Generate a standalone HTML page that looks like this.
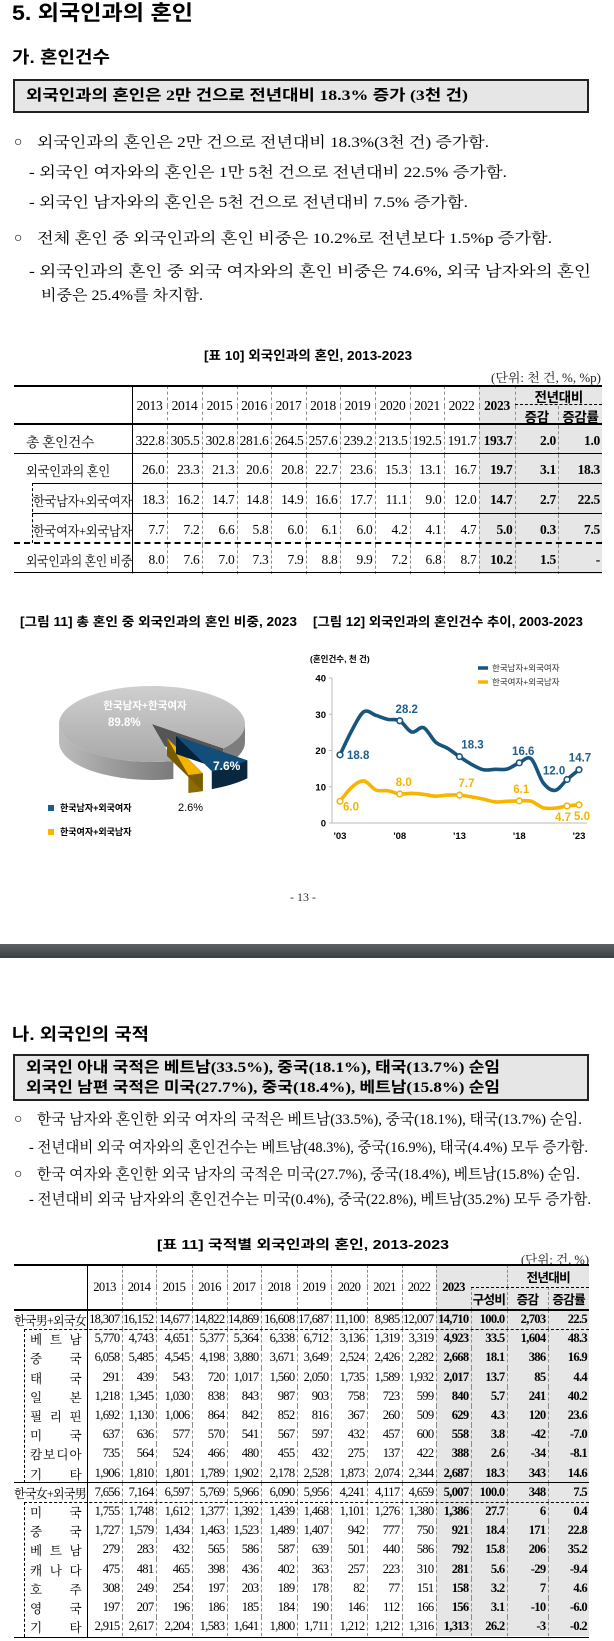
<!DOCTYPE html>
<html lang="ko"><head><meta charset="utf-8">
<style>
html,body{margin:0;padding:0;background:#fff}
body{width:614px;height:1641px;position:relative;overflow:hidden;color:#000}
.t{position:absolute;white-space:nowrap;display:inline-block;line-height:20px;transform-origin:0 50%}
.serif{font-family:"Liberation Serif","Noto Serif CJK SC",serif}
.goth{font-family:"Liberation Sans","Noto Sans CJK KR",sans-serif;font-weight:bold}
.boxt{font-family:"Liberation Serif","Noto Sans CJK KR",sans-serif;font-weight:bold}
.box{position:absolute;background:#e6e6e6;border:2px solid #222;box-sizing:border-box}
.hl{position:absolute;height:0}
.vl{position:absolute;width:0}
table{position:absolute;border-collapse:collapse;table-layout:fixed;font-family:"Liberation Serif","Noto Serif CJK SC",serif}
td{padding:0 2px 0 0;text-align:right;white-space:nowrap;overflow:visible;border-left:1px dashed #8a8a8a;box-sizing:border-box}
td.first{border-left:none;text-align:left;padding:0}
td.g{background:#e6e6e6}
td.b{font-weight:bold}
td.c{text-align:center;padding:0}
td.h{font-family:"Liberation Sans","Noto Sans CJK KR",sans-serif;font-weight:bold;font-size:12px}
#t10 td{font-size:13.5px;letter-spacing:-0.3px}
#t11 td{font-size:12.6px;letter-spacing:-0.7px}
.dist{display:flex;justify-content:space-between;margin-left:16px;width:51px}
</style></head>
<body>

<span class="t goth fit" data-w="181" style="left:12px;top:4px;font-size:21px">5. 외국인과의 혼인</span>
<span class="t goth fit" data-w="98" style="left:12px;top:48px;font-size:17px">가. 혼인건수</span>
<div class="box" style="left:13px;top:79px;width:576px;height:34px"></div>
<span class="t boxt fit" data-w="442" style="left:26px;top:86px;font-size:15px">외국인과의 혼인은 2만 건으로 전년대비 18.3% 증가 (3천 건)</span>

<span class="t serif" style="left:14px;top:133px;font-size:14px">○</span>
<span class="t serif fit" data-w="452" style="left:37px;top:133px;font-size:15px">외국인과의 혼인은 2만 건으로 전년대비 18.3%(3천 건) 증가함.</span>
<span class="t serif fit" data-w="478" style="left:29px;top:163px;font-size:15px">- 외국인 여자와의 혼인은 1만 5천 건으로 전년대비 22.5% 증가함.</span>
<span class="t serif fit" data-w="439" style="left:29px;top:193px;font-size:15px">- 외국인 남자와의 혼인은 5천 건으로 전년대비 7.5% 증가함.</span>
<span class="t serif" style="left:14px;top:229px;font-size:14px">○</span>
<span class="t serif fit" data-w="515" style="left:37px;top:229px;font-size:15px">전체 혼인 중 외국인과의 혼인 비중은 10.2%로 전년보다 1.5%p 증가함.</span>
<span class="t serif fit" data-w="562" style="left:29px;top:262px;font-size:15px">- 외국인과의 혼인 중 외국 여자와의 혼인 비중은 74.6%, 외국 남자와의 혼인</span>
<span class="t serif fit" data-w="162" style="left:41px;top:286px;font-size:15px">비중은 25.4%를 차지함.</span>

<span class="t goth fit" data-w="208" style="left:204px;top:346px;font-size:13px">[표 10] 외국인과의 혼인, 2013-2023</span>
<span class="t serif fit" data-w="110" style="left:491px;top:368px;font-size:12.5px;color:#222">(단위: 천 건, %, %p)</span>
<table id="t10" style="left:14px;top:386px;width:588px"></table>

<span class="t goth fit" data-w="277" style="left:20px;top:612px;font-size:12.5px">[그림 11] 총 혼인 중 외국인과의 혼인 비중, 2023</span>
<span class="t goth fit" data-w="270" style="left:313px;top:612px;font-size:12.5px">[그림 12] 외국인과의 혼인건수 추이, 2003-2023</span>

<svg id="pie" style="position:absolute;left:0;top:0" width="300" height="860">
<defs>
<linearGradient id="gtop" x1="0" y1="0" x2="0" y2="1"><stop offset="0" stop-color="#cfcfcf"/><stop offset="1" stop-color="#a9a9a9"/></linearGradient>
<linearGradient id="gside" x1="0" y1="0" x2="1" y2="0"><stop offset="0" stop-color="#bdbdbd"/><stop offset="0.5" stop-color="#9a9a9a"/><stop offset="1" stop-color="#7a7a7a"/></linearGradient>
</defs>
</svg>
<span class="t goth" style="left:90px;top:696px;font-size:10.5px;color:#fff;width:110px;text-align:center">한국남자+한국여자</span>
<span class="t goth" style="left:108px;top:713px;font-size:11.5px;color:#fff">89.8%</span>
<span class="t goth" style="left:213px;top:756px;font-size:12px;color:#fff">7.6%</span>
<span class="t goth" style="left:178px;top:798px;font-size:11px;font-weight:normal">2.6%</span>
<div style="position:absolute;left:48px;top:805px;width:6px;height:6px;background:#1f5c87"></div>
<span class="t goth" style="left:60px;top:798px;font-size:9px">한국남자+외국여자</span>
<div style="position:absolute;left:48px;top:829px;width:6px;height:6px;background:#f7b500"></div>
<span class="t goth" style="left:60px;top:822px;font-size:9px">한국여자+외국남자</span>

<svg id="line" style="position:absolute;left:300px;top:640px" width="314" height="210"></svg>

<span class="t serif" style="left:290px;top:887px;font-size:12px;color:#333">- 13 -</span>
<div style="position:absolute;left:0;top:944px;width:614px;height:14px;background:linear-gradient(#5e6163,#3c3f41)"></div>

<span class="t goth fit" data-w="137" style="left:12px;top:1025px;font-size:17px">나. 외국인의 국적</span>
<div class="box" style="left:13px;top:1054px;width:576px;height:47px"></div>
<span class="t boxt fit" data-w="474" style="left:26px;top:1058px;font-size:15px">외국인 아내 국적은 베트남(33.5%), 중국(18.1%), 태국(13.7%) 순임</span>
<span class="t boxt fit" data-w="474" style="left:26px;top:1078px;font-size:15px">외국인 남편 국적은 미국(27.7%), 중국(18.4%), 베트남(15.8%) 순임</span>
<span class="t serif" style="left:14px;top:1110px;font-size:14px">○</span>
<span class="t serif fit" data-w="545" style="left:37px;top:1110px;font-size:15px">한국 남자와 혼인한 외국 여자의 국적은 베트남(33.5%), 중국(18.1%), 태국(13.7%) 순임.</span>
<span class="t serif fit" data-w="559" style="left:29px;top:1138px;font-size:15px">- 전년대비 외국 여자와의 혼인건수는 베트남(48.3%), 중국(16.9%), 태국(4.4%) 모두 증가함.</span>
<span class="t serif" style="left:14px;top:1165px;font-size:14px">○</span>
<span class="t serif fit" data-w="543" style="left:37px;top:1165px;font-size:15px">한국 여자와 혼인한 외국 남자의 국적은 미국(27.7%), 중국(18.4%), 베트남(15.8%) 순임.</span>
<span class="t serif fit" data-w="562" style="left:29px;top:1190px;font-size:15px">- 전년대비 외국 남자와의 혼인건수는 미국(0.4%), 중국(22.8%), 베트남(35.2%) 모두 증가함.</span>

<span class="t goth fit" data-w="292" style="left:157px;top:1235px;font-size:13px">[표 11] 국적별 외국인과의 혼인, 2013-2023</span>
<span class="t serif fit" data-w="68" style="left:521px;top:1250px;font-size:12.5px;color:#222">(단위: 건, %)</span>
<table id="t11" style="left:14px;top:1265px;width:575px"></table>

<script>
// ---------- Table 10 data ----------
const t10Years=["2013","2014","2015","2016","2017","2018","2019","2020","2021","2022"];
const t10Labels=["총  혼인건수","외국인과의 혼인","한국남자+외국여자","한국여자+외국남자","외국인과의 혼인 비중"];
const t10Rows=[
["322.8","305.5","302.8","281.6","264.5","257.6","239.2","213.5","192.5","191.7","193.7","2.0","1.0"],
["26.0","23.3","21.3","20.6","20.8","22.7","23.6","15.3","13.1","16.7","19.7","3.1","18.3"],
["18.3","16.2","14.7","14.8","14.9","16.6","17.7","11.1","9.0","12.0","14.7","2.7","22.5"],
["7.7","7.2","6.6","5.8","6.0","6.1","6.0","4.2","4.1","4.7","5.0","0.3","7.5"],
["8.0","7.6","7.0","7.3","7.9","8.8","9.9","7.2","6.8","8.7","10.2","1.5","-"]];
// ---------- Table 11 data ----------
const t11Labels=["한국男+외국女","베트남","중국","태국","일본","필리핀","미국","캄보디아","기타","한국女+외국男","미국","중국","베트남","캐나다","호주","영국","기타"];
const t11Rows=[
["18,307","16,152","14,677","14,822","14,869","16,608","17,687","11,100","8,985","12,007","14,710","100.0","2,703","22.5"],
["5,770","4,743","4,651","5,377","5,364","6,338","6,712","3,136","1,319","3,319","4,923","33.5","1,604","48.3"],
["6,058","5,485","4,545","4,198","3,880","3,671","3,649","2,524","2,426","2,282","2,668","18.1","386","16.9"],
["291","439","543","720","1,017","1,560","2,050","1,735","1,589","1,932","2,017","13.7","85","4.4"],
["1,218","1,345","1,030","838","843","987","903","758","723","599","840","5.7","241","40.2"],
["1,692","1,130","1,006","864","842","852","816","367","260","509","629","4.3","120","23.6"],
["637","636","577","570","541","567","597","432","457","600","558","3.8","-42","-7.0"],
["735","564","524","466","480","455","432","275","137","422","388","2.6","-34","-8.1"],
["1,906","1,810","1,801","1,789","1,902","2,178","2,528","1,873","2,074","2,344","2,687","18.3","343","14.6"],
["7,656","7,164","6,597","5,769","5,966","6,090","5,956","4,241","4,117","4,659","5,007","100.0","348","7.5"],
["1,755","1,748","1,612","1,377","1,392","1,439","1,468","1,101","1,276","1,380","1,386","27.7","6","0.4"],
["1,727","1,579","1,434","1,463","1,523","1,489","1,407","942","777","750","921","18.4","171","22.8"],
["279","283","432","565","586","587","639","501","440","586","792","15.8","206","35.2"],
["475","481","465","398","436","402","363","257","223","310","281","5.6","-29","-9.4"],
["308","249","254","197","203","189","178","82","77","151","158","3.2","7","4.6"],
["197","207","196","186","185","184","190","146","112","166","156","3.1","-10","-6.0"],
["2,915","2,617","2,204","1,583","1,641","1,800","1,711","1,212","1,212","1,316","1,313","26.2","-3","-0.2"]];
// ---------- Figure 12 data ----------
const lineYears=[2003,2004,2005,2006,2007,2008,2009,2010,2011,2012,2013,2014,2015,2016,2017,2018,2019,2020,2021,2022,2023];
const koMaleForeignFemale=[18.8,25.6,30.7,29.7,28.6,28.2,25.1,26.3,22.3,20.6,18.3,16.2,14.7,14.8,14.9,16.6,17.7,11.1,9.0,12.0,14.7];
const koFemaleForeignMale=[6.0,9.9,11.6,9.1,8.9,8.0,8.2,7.9,7.4,7.7,7.7,7.2,6.6,5.8,6.0,6.1,6.0,4.2,4.1,4.7,5.0];
const markerYears=[2003,2008,2013,2018,2022,2023];
const yTicks=[0,10,20,30,40];
const xTickYears=[2003,2008,2013,2018,2023];
const xTickLabels=["'03","'08","'13","'18","'23"];
const seriesNames=["한국남자+외국여자","한국여자+외국남자"];
// ---------- Figure 11 data ----------
const pieLabels=["한국남자+한국여자","한국남자+외국여자","한국여자+외국남자"];
const pieShares=[89.8,7.6,2.6];

function mkTd(tr,text,cls,w){
  const td=document.createElement('td');
  
  
  if(text!==null) td.textContent=text;
  if(cls) td.className=cls;
  if(w) td.style.width=w+'px';
  tr.appendChild(td);return td;
}
function mkTr(tbl,h){
  const tr=document.createElement('tr');
  
  
  tr.style.height=h+'px';tbl.appendChild(tr);return tr;
}
function fitSpan(td,text,left,w){
  const s=document.createElement('span');
  
  
  s.className='fit';s.dataset.w=w;s.textContent=text;
  s.style.cssText='display:inline-block;white-space:nowrap;transform-origin:0 50%;margin-left:'+left+'px';
  td.appendChild(s);
}
// Table 10
(function(){
  const t=document.getElementById('t10');
  const yw=[35,35,35,34,35,34,35,35,34,35];
  let r=mkTr(t,18);
  let c=mkTd(r,'', 'first',118);c.rowSpan=2;
  t10Years.forEach((y,i)=>{const d=mkTd(r,y,'c',yw[i]);d.rowSpan=2;});
  c=mkTd(r,'2023','c g b',36);c.rowSpan=2;
  c=mkTd(r,'전년대비','c g h');c.colSpan=2;
  r=mkTr(t,20);
  mkTd(r,'증감','c g h',45);mkTd(r,'증감률','c g h',42);
  const hs=[29,30,30,30,29];
  const lp=[[12,68],[12,84],[19,99],[19,99],[12,106]];
  t10Rows.forEach((row,i)=>{
    const tr=mkTr(t,hs[i]);
    const lc=mkTd(tr,null,'first');fitSpan(lc,t10Labels[i],lp[i][0],lp[i][1]);
    row.forEach((v,j)=>{mkTd(tr,v,j>=10?'g b':'');});
  });
})();
// Table 11
(function(){
  const t=document.getElementById('t11');
  const yw=[35,34,36,35,34,36,34,36,35,34];
  let r=mkTr(t,22);
  let c=mkTd(r,'','first',73);c.rowSpan=2;
  t10Years.forEach((y,i)=>{const d=mkTd(r,y,'c',yw[i]);d.rowSpan=2;});
  c=mkTd(r,'2023','c g b',35);c.rowSpan=2;
  c=mkTd(r,'','g',36);c.style.borderLeft='none';
  c=mkTd(r,'전년대비','c g h');c.colSpan=2;
  r=mkTr(t,23);
  mkTd(r,'구성비','c g h',36);mkTd(r,'증감','c g h',40);mkTd(r,'증감률','c g h',42);
  t11Rows.forEach((row,i)=>{
    const tr=mkTr(t,19.2);
    const lc=mkTd(tr,null,'first');
    if(i===0||i===9){fitSpan(lc,t11Labels[i],0,72);}
    else{
      const d=document.createElement('div');
      
      
      d.className='dist';
      t11Labels[i].split('').forEach(ch=>{const s=document.createElement('span');s.textContent=ch;d.appendChild(s);});
      lc.appendChild(d);
    }
    row.forEach((v,j)=>{mkTd(tr,v,j>=10?'g b':'');});
  });
})();
// rule lines
function line(x1,x2,y,w,style){
  const d=document.createElement('div');
  
  
  d.className='hl';d.style.cssText+='left:'+x1+'px;width:'+(x2-x1)+'px;top:'+(y-w/2)+'px;border-top:'+w+'px '+style+' #000';
  document.body.appendChild(d);
}
function vline(x,y1,y2,style){
  const d=document.createElement('div');
  
  
  d.className='vl';d.style.cssText+='left:'+x+'px;top:'+y1+'px;height:'+(y2-y1)+'px;border-left:1px '+style+' #000';
  document.body.appendChild(d);
}
line(14,602,386,2,'solid');line(515,602,404,1,'dashed');line(14,602,424,2,'solid');
line(14,602,453,1,'solid');line(32,602,483,1,'solid');line(32,602,513,1,'solid');
line(14,602,543,2,'dashed');line(14,602,572,1,'solid');
vline(132,386,572,'solid');vline(32,483,543,'dashed');
line(14,589,1265,2,'solid');line(471,589,1287,1,'dashed');line(14,589,1310,2,'solid');
line(24,589,1329,1,'dashed');line(14,589,1483,1.5,'solid');line(24,589,1502,1,'dashed');line(14,589,1637,1,'solid');
vline(87,1265,1637,'solid');vline(24,1329,1483,'dashed');vline(24,1502,1637,'dashed');

// ---------- Pie chart ----------
(function(){
  const svg=document.getElementById('pie');const NS='http://www.w3.org/2000/svg';
  const cx=152,cy=724,rx=93,ry=38,dep=18;
  const P=(t,ox,oy,dy)=>[cx+ox+rx*Math.cos(t*Math.PI/180),cy+oy+(dy||0)+ry*Math.sin(t*Math.PI/180)];
  function add(d,fill,name){const p=document.createElementNS(NS,'path');
    
    
    p.setAttribute('d',d);p.setAttribute('fill',fill);svg.appendChild(p);}
  function top(a,b,ox,oy){const s=P(a,ox,oy),e=P(b,ox,oy);const lg=(b-a)>180?1:0;
    return 'M'+(cx+ox)+','+(cy+oy)+'L'+s+'A'+rx+','+ry+' 0 '+lg+' 1 '+e+'Z';}
  function side(a,b,ox,oy){const s=P(a,ox,oy),e=P(b,ox,oy),s2=P(a,ox,oy,dep),e2=P(b,ox,oy,dep);const lg=(b-a)>180?1:0;
    return 'M'+s+'A'+rx+','+ry+' 0 '+lg+' 1 '+e+'L'+e2+'A'+rx+','+ry+' 0 '+lg+' 0 '+s2+'Z';}
  function wall(t,ox,oy){const e=P(t,ox,oy);return 'M'+(cx+ox)+','+(cy+oy)+'L'+e+'L'+[e[0],e[1]+dep]+'L'+(cx+ox)+','+(cy+oy+dep)+'Z';}
  const start=40;
  const blueSpan=pieShares[1]*3.6, yelSpan=pieShares[2]*3.6;
  const b0=start,b1=start+blueSpan,y1=b1+yelSpan;
  // gray slice
  add(side(0,start,0,0),'#7d7d7d','pie-side-korean-couples');
  add(side(y1,180,0,0),'url(#gside)','pie-side-korean-couples');
  add(wall(start,0,0),'#555','pie-wall-korean-couples');
  add(top(y1,360+start,0,0),'url(#gtop)','pie-slice-korean-couples');
  // yellow slice
  const yo=[15,14];
  add(side(b1,y1,yo[0],yo[1]),'#8c6c00','pie-side-foreign-husband');
  add(wall(b1,yo[0],yo[1]),'#7a5c00','pie-wall-foreign-husband');
  add(top(b1,y1,yo[0],yo[1]),'#f5b400','pie-slice-foreign-husband');
  // blue slice
  const bo=[24,12];
  add(wall(b0,bo[0],bo[1]),'#062238','pie-wall-foreign-wife');
  add(side(b0,b1,bo[0],bo[1]),'#0a2740','pie-side-foreign-wife');
  add(top(b0,b1,bo[0],bo[1]),'#114f7a','pie-slice-foreign-wife');
})();

// ---------- Line chart ----------
(function(){
  const svg=document.getElementById('line');const NS='http://www.w3.org/2000/svg';
  const OX=300,OY=640;
  const x=yr=>340+(yr-2003)*11.95-OX;
  const y=v=>823-v*3.625-OY;
  function el(tag,attrs,name,text){const e=document.createElementNS(NS,tag);
    
    
    for(const k in attrs)e.setAttribute(k,attrs[k]);if(text!==undefined)e.textContent=text;svg.appendChild(e);return e;}
  el('text',{x:10,y:22,'font-size':8.5,'font-family':'Liberation Sans,Noto Sans CJK KR,sans-serif','font-weight':'bold'},'y-axis-title','(혼인건수, 천 건)');
  el('line',{x1:32,y1:y(40),x2:32,y2:y(0),stroke:'#bbb','stroke-width':1},'y-axis');
  el('line',{x1:32,y1:y(0),x2:287,y2:y(0),stroke:'#bbb','stroke-width':1},'x-axis');
  yTicks.forEach(v=>{
    el('line',{x1:29,y1:y(v),x2:32,y2:y(v),stroke:'#bbb'},'y-tick');
    el('text',{x:26,y:y(v)+3.5,'text-anchor':'end','font-size':9.5,'font-weight':'bold','font-family':'Liberation Sans,sans-serif'},'y-tick-label',String(v));
  });
  xTickYears.forEach((yr,i)=>{
    el('text',{x:x(yr),y:y(0)+16,'text-anchor':'middle','font-size':9.5,'font-weight':'bold','font-family':'Liberation Sans,sans-serif'},'x-tick-label',xTickLabels[i]);
  });
  function smooth(vals){
    const pts=vals.map((v,i)=>[x(lineYears[i]),y(v)]);
    let d='M'+pts[0][0]+','+pts[0][1];
    for(let i=0;i<pts.length-1;i++){
      const p0=pts[Math.max(0,i-1)],p1=pts[i],p2=pts[i+1],p3=pts[Math.min(pts.length-1,i+2)];
      const c1=[p1[0]+(p2[0]-p0[0])/6,p1[1]+(p2[1]-p0[1])/6];
      const c2=[p2[0]-(p3[0]-p1[0])/6,p2[1]-(p3[1]-p1[1])/6];
      d+='C'+c1+' '+c2+' '+p2;
    }
    return d;
  }
  const colors=['#17557f','#f7b500'];
  const series=[koMaleForeignFemale,koFemaleForeignMale];
  const labelOff=[[[7,4,'start'],[7,-8,'middle'],[13,-8,'middle'],[4,-8,'middle'],[-13,-5,'middle'],[1,-8,'middle']],
                  [[11,9,'middle'],[4,-8,'middle'],[7,-8,'middle'],[2,-8,'middle'],[-4,15,'middle'],[3,15,'middle']]];
  const lblColors=['#1f5f8b','#f5b400'];
  series.forEach((vals,s)=>{
    el('path',{d:smooth(vals),fill:'none',stroke:colors[s],'stroke-width':3.6,'stroke-linejoin':'round','stroke-linecap':'round'},s===0?'line-series-foreign-wife':'line-series-foreign-husband');
    markerYears.forEach((yr,k)=>{
      const v=vals[lineYears.indexOf(yr)];
      el('circle',{cx:x(yr),cy:y(v),r:2.8,fill:'#fff',stroke:colors[s],'stroke-width':1.6},'data-point');
      const o=labelOff[s][k];
      el('text',{x:x(yr)+o[0],y:y(v)+o[1],'text-anchor':o[2],'font-size':11.5,'font-weight':'bold','font-family':'Liberation Sans,sans-serif',fill:lblColors[s]},'data-label',v.toFixed(1));
    });
  });
  seriesNames.forEach((n,i)=>{
    const ly=28+i*14;
    el('line',{x1:178,y1:ly,x2:188,y2:ly,stroke:colors[i],'stroke-width':3.5},'legend-line');
    el('text',{x:192,y:ly+3,'font-size':8.5,'font-family':'Liberation Sans,Noto Sans CJK KR,sans-serif',fill:'#333'},'legend-entry',n);
  });
})();

// fit text widths
document.querySelectorAll('.fit').forEach(e=>{
  const w=e.getBoundingClientRect().width;const t=+e.dataset.w;
  if(w>0){const base=e.classList.contains('t')?'':'';e.style.transform='scaleX('+(t/w)+')';}
});
</script>
</body></html>
